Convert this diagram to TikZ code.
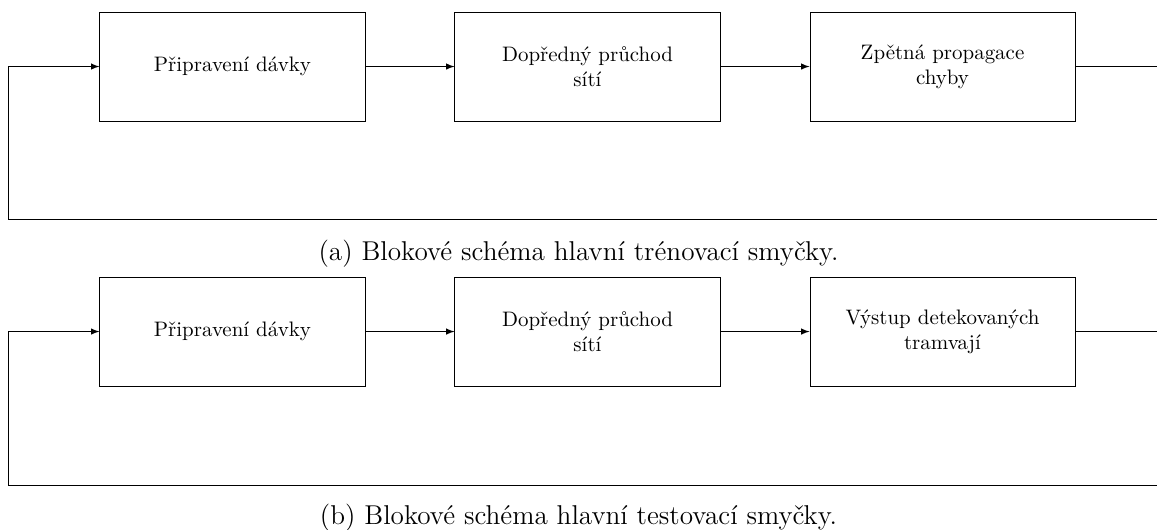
\documentclass[tikz,border=0pt]{standalone}
\usepackage{fontspec}
\usepackage{tikz}
\usetikzlibrary{positioning,arrows}
\tikzset{}

\begin{document}
\begin{tikzpicture}[x=1cm,y=1cm]
            \tikzset{
                loop node/.style={rectangle,draw,minimum width=4.45cm,minimum height=1.83cm,align=center,inner sep=0},
                loop edge/.style={-latex},
                cap node/.style={font=\fontsize{13}{16}\selectfont,inner sep=0}
            }
            \useasboundingbox (0,0) rectangle (19.414,-8.893);
            \clip (0,0) rectangle (19.414,-8.893);
            % trenovaci smycka
            \node[loop node] (a1) at (3.90, -1.116) {Připravení dávky};
            \node[loop node] (a2) at (9.858, -1.116) {Dopředný průchod\\sítí};
            \node[loop node] (a3) at (15.815, -1.116) {Zpětná propagace\\chyby};
            \coordinate (ar) at (20.0, -3.675);
            \coordinate (al) at (0.143, -3.675);
            \node[cap node] (capa) at (9.707, -4.25) {(a) Blokové schéma hlavní trénovací smyčky.};
            % testovaci smycka
            \node[loop node] (b1) at (3.90, -5.563) {Připravení dávky};
            \node[loop node] (b2) at (9.858, -5.563) {Dopředný průchod\\sítí};
            \node[loop node] (b3) at (15.815, -5.563) {Výstup detekovaných\\tramvají};
            \coordinate (br) at (20.0, -8.138);
            \coordinate (bl) at (0.143, -8.138);
            \node[cap node] (capb) at (9.707, -8.68) {(b) Blokové schéma hlavní testovací smyčky.};
            \path[draw]
                (a1) edge[loop edge] (a2)
                (a2) edge[loop edge] (a3)
                (b1) edge[loop edge] (b2)
                (b2) edge[loop edge] (b3)
                ;
            \draw[loop edge] (a3.east) -| (ar) -- (al) |- (a1.west);
            \draw[loop edge] (b3.east) -| (br) -- (bl) |- (b1.west);
        \end{tikzpicture}
\end{document}
